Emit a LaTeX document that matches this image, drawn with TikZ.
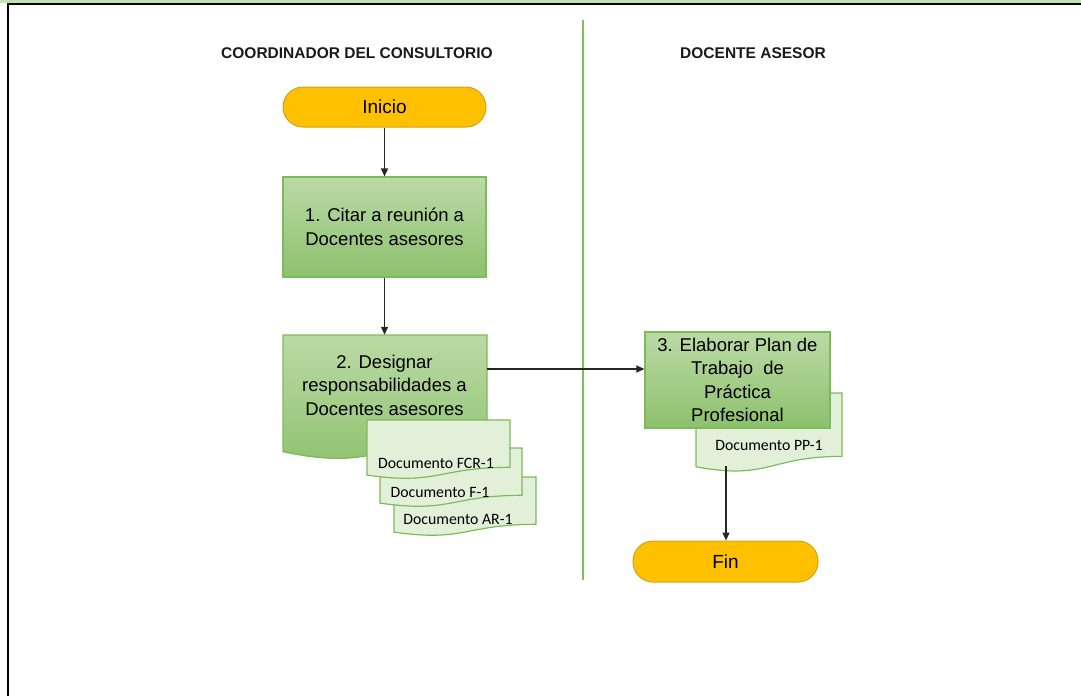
\documentclass[tikz,border=0pt]{standalone}
\usepackage{fontspec}
\setmainfont{Liberation Sans}
\newfontfamily\docfont{Carlito}
\usetikzlibrary{arrows.meta,calc}
\definecolor{gtop}{HTML}{BBDAA6}
\definecolor{gbot}{HTML}{8DC16D}
\definecolor{gline}{HTML}{7DBB5A}
\definecolor{docfill}{HTML}{E2F0D9}
\definecolor{strip}{HTML}{C5E0B4}
\definecolor{termfill}{HTML}{FFC000}
\definecolor{termline}{HTML}{D0A31A}
\definecolor{divline}{HTML}{7CBF5C}
\definecolor{arrcol}{HTML}{262626}
\newcommand{\docshape}[5]{%
  \path[#1] (#2,#3) -- ({#2+#4},#3) -- ({#2+#4},{#3+0.802*#5})
    .. controls ({#2+0.5*#4},{#3+0.802*#5}) and ({#2+0.5*#4},{#3+1.107*#5}) .. (#2,{#3+0.934*#5}) -- cycle;}
\tikzset{
  termbox/.style={rounded corners=20pt, minimum width=#1, minimum height=40pt, fill=termfill, draw=termline, line width=1pt, font=\fontsize{19}{23}\selectfont, inner sep=0pt},
  procbox/.style={top color=gtop, bottom color=gbot, draw=gline, line width=1.2pt, align=center, font=\fontsize{18.5}{23.5}\selectfont, inner sep=0pt},
  proctext/.style={align=center, font=\fontsize{18.5}{23.5}\selectfont, inner sep=0pt},
  procshape/.style={top color=gtop, bottom color=gbot, draw=gline, line width=1.2pt},
  docstyle/.style={fill=docfill, draw=gline, line width=1.2pt},
  doctext/.style={font=\docfont\fontsize{15.8}{18}\selectfont, inner sep=0pt},
  hdr/.style={font=\bfseries\fontsize{15.5}{18}\selectfont, inner sep=0pt, text=black!90},
  arr/.style={draw=arrcol, line width=1.3pt, -{Triangle[length=8pt,width=7pt]}},
}
\begin{document}
\begin{tikzpicture}[x=1pt,y=-1pt]
\useasboundingbox (0,0) rectangle (1081,696);
% frame
\fill[strip] (0,0) rectangle (1081,3.3);
\draw[line width=2pt] (7.7,4.3) -- (1081,4.3);
\draw[line width=2pt] (7.7,3.3) -- (7.7,696);
% divider
\draw[divline, line width=2.2pt] (583,20) -- (583,580);
% headers
\node[hdr] (h1) at (357,53) {COORDINADOR DEL CONSULTORIO};
\node[hdr] (h2) at (753,53) {DOCENTE ASESOR};
% left lane
\node[termbox=203pt] (ini) at (384.5,107) {Inicio};
\node[procbox, minimum width=203pt, minimum height=100pt] (b1) at (384.5,227) {1. Citar a reunión a\\Docentes asesores};
\docshape{procshape}{283}{335}{204}{125}
\node[proctext, minimum width=204pt, minimum height=100pt] (b2) at (384.5,385) {2. Designar\\responsabilidades a\\Docentes asesores};
\docshape{docstyle}{394}{477}{142}{59}
\node[doctext] (d3) at (458,519) {Documento AR-1};
\docshape{docstyle}{380}{448}{142}{59}
\node[doctext] (d2) at (440,492) {Documento F-1};
\docshape{docstyle}{367}{420}{143}{59}
\node[doctext] (d1) at (436,463) {Documento FCR-1};
% right lane
\docshape{docstyle}{696}{393}{146}{79}
\node[doctext] (d4) at (769,445) {Documento PP-1};
\node[procbox, minimum width=185pt, minimum height=96pt] (b3) at (737.5,380) {3. Elaborar Plan de\\Trabajo \ de\\Práctica\\Profesional};
\node[termbox=185pt, minimum height=41pt] (fin) at (725.5,561.5) {Fin};
% connectors
\coordinate (c23) at (487,369);
\coordinate (c4) at (726,466);
\draw[arr] (ini) -- (b1);
\draw[arr] (b1) -- (b2);
\draw[arr] (c23) -- (c23 -| b3.west);
\draw[arr] (c4) -- (c4 |- fin.north);
\end{tikzpicture}
\end{document}
